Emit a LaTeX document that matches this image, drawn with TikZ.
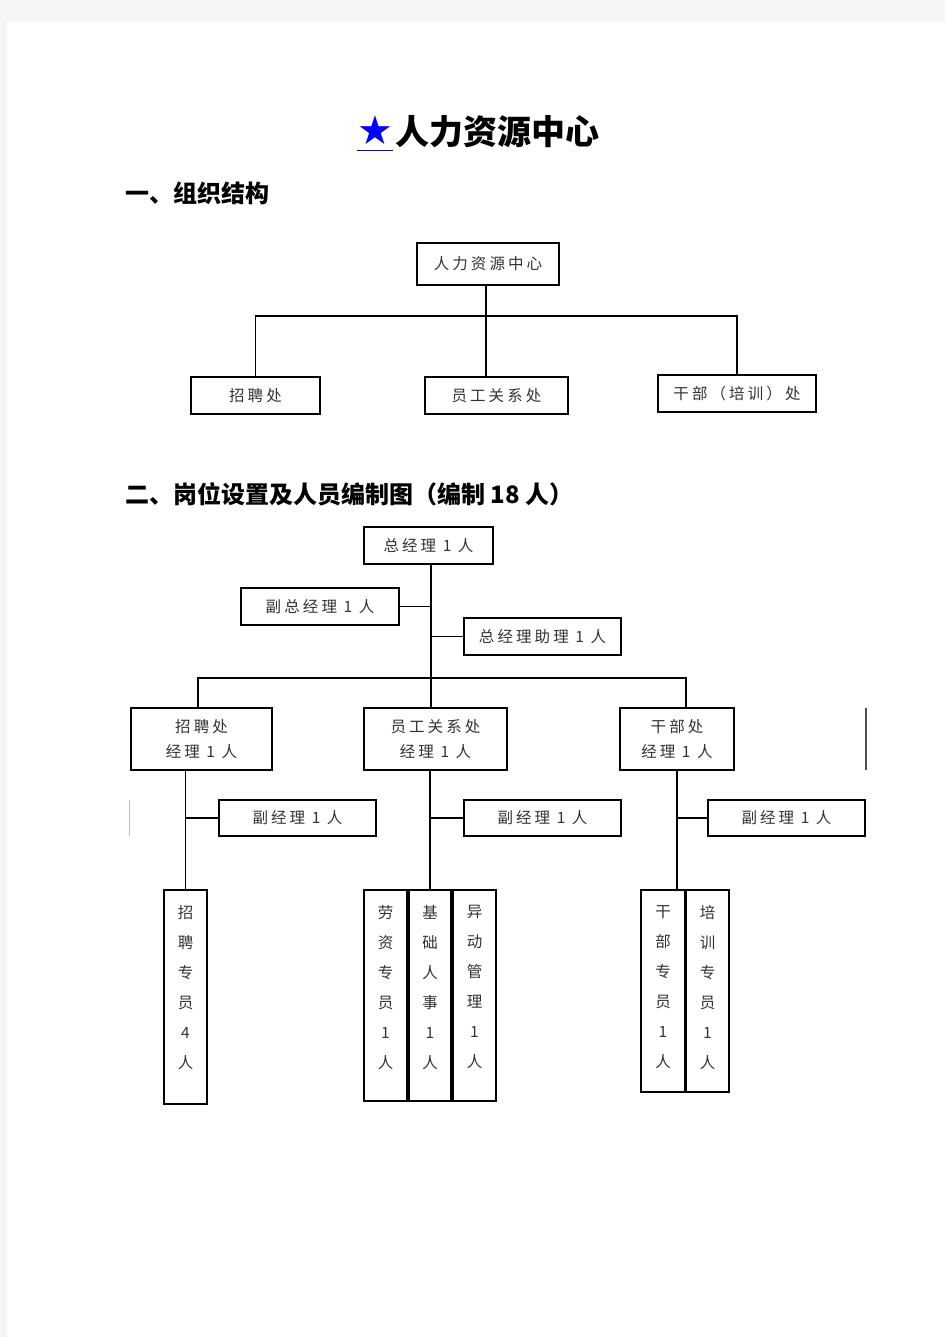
\documentclass[tikz,border=0pt]{standalone}
\usepackage{fontspec}
\usetikzlibrary{positioning}
\newfontfamily\cjkfont{Noto Sans CJK SC}
\newfontfamily\boxfont[LetterSpace=20]{Noto Sans CJK SC}
\newfontfamily\symfont{DejaVu Sans}
\definecolor{starblue}{RGB}{0,0,255}

\begin{document}
\begin{tikzpicture}[x=1pt, y=-1pt,
    unit/.style={rectangle, draw, line width=1.5pt, inner sep=0pt, align=center, text=black!80,
        font=\boxfont\fontsize{15.5pt}{25pt}\selectfont},
    coltext/.style={anchor=north, inner sep=0pt, align=center, text=black!80,
        font=\boxfont\fontsize{15.5pt}{30pt}\selectfont},
    heading/.style={anchor=west, inner sep=0pt, font=\cjkfont\bfseries\fontsize{24pt}{28pt}\selectfont},
    link/.style={line width=1.2pt},
    trunk/.style={line width=2.4pt}
]
    \fill[black!4] (0,0) rectangle (945,1337);
    \fill[white] (7,22) rectangle (945,1337);
    \useasboundingbox (0,0) rectangle (945,1337);

    \node[inner sep=0pt, font=\cjkfont\bfseries\fontsize{34pt}{40pt}\selectfont] (title) at (497.5,132) {人力资源中心};
    \node[inner sep=0pt, minimum width=34pt, minimum height=40pt, text=starblue,
        font=\symfont\fontsize{40pt}{44pt}\selectfont] (star) at (375,130) {★};
    \draw[starblue, line width=1pt] (star.south west) -- (star.south east);

    \node[heading] (h1) at (125,193) {一、组织结构};
    \node[heading] (h2) at (125,494) {二、岗位设置及人员编制图（编制 18 人）};

    \node[unit, minimum width=142pt, minimum height=42pt] (hr) at (488,264) {人力资源中心};
    \node[unit, minimum width=129pt, minimum height=37pt] (zp1) at (255.5,395.5) {招聘处};
    \node[unit, minimum width=143pt, minimum height=37pt] (yg1) at (496.5,395.5) {员工关系处};
    \node[unit, minimum width=158pt, minimum height=37pt] (gb1) at (737,393.5) {干部（培训）处};

    \coordinate (bus1) at (486,316);
    \draw[trunk] (hr.south -| bus1) -- (yg1.north -| bus1);
    \draw[link] (zp1.north) |- (bus1) -| (gb1.north);

    \node[unit, minimum width=129pt, minimum height=37pt] (zjl) at (428.5,545.5) {总经理 1 人};
    \node[unit, minimum width=158pt, minimum height=37pt] (fzjl) at (320,606.5) {副总经理 1 人};
    \node[unit, minimum width=157pt, minimum height=37pt] (zjlzl) at (542.5,636.5) {总经理助理 1 人};

    \node[unit, minimum width=141pt, minimum height=62pt] (zpc) at (201.5,739) {招聘处\\经理 1 人};
    \node[unit, minimum width=143pt, minimum height=62pt] (ygc) at (435.5,739) {员工关系处\\经理 1 人};
    \node[unit, minimum width=114pt, minimum height=62pt] (gbc) at (677,739) {干部处\\经理 1 人};

    \node[unit, minimum width=157pt, minimum height=36pt] (fjl1) at (297.5,818) {副经理 1 人};
    \node[unit, minimum width=157pt, minimum height=36pt] (fjl2) at (542.5,818) {副经理 1 人};
    \node[unit, minimum width=157pt, minimum height=36pt] (fjl3) at (786.5,818) {副经理 1 人};

    \node[unit, minimum width=43pt, minimum height=214pt] (zpzy) at (185.5,997) {};
    \node[unit, minimum width=43pt, minimum height=211pt] (lzzy) at (385.5,995.5) {};
    \node[unit, minimum width=42pt, minimum height=211pt] (jcrs) at (430,995.5) {};
    \node[unit, minimum width=43pt, minimum height=211pt] (ydgl) at (474.5,995.5) {};
    \node[unit, minimum width=44pt, minimum height=202pt] (gbzy) at (663,991) {};
    \node[unit, minimum width=43pt, minimum height=202pt] (pxzy) at (707.5,991) {};

    \node[coltext, below=16pt of zpzy.north] (zpzyt) {招\\聘\\专\\员\\4\\人};
    \node[coltext, below=16pt of lzzy.north] (lzzyt) {劳\\资\\专\\员\\1\\人};
    \node[coltext, below=16pt of jcrs.north] (jcrst) {基\\础\\人\\事\\1\\人};
    \node[coltext, below=16pt of ydgl.north] (ydglt) {异\\动\\管\\理\\1\\人};
    \node[coltext, below=16pt of gbzy.north] (gbzyt) {干\\部\\专\\员\\1\\人};
    \node[coltext, below=16pt of pxzy.north] (pxzyt) {培\\训\\专\\员\\1\\人};

    \coordinate (bus2) at (431,678);
    \coordinate (bus2l) at (198,678);
    \coordinate (bus2r) at (686,678);
    \draw[link] (zjl.south -| bus2) -- (ygc.north -| bus2);
    \draw[link] (fzjl.east) -- (fzjl.east -| bus2);
    \draw[link] (zjlzl.west) -- (zjlzl.west -| bus2);
    \draw[link] (zpc.north -| bus2l) -- (bus2l) -- (bus2r) -- (gbc.north -| bus2r);

    \draw[link] (zpzy.north) -- (zpzy.north |- zpc.south);
    \draw[link] (jcrs.north) -- (jcrs.north |- ygc.south);
    \draw[link] (gbc.south) -- (gbc.south |- gbzy.north);
    \draw[link] (fjl1.west) -- (fjl1.west -| zpzy.north);
    \draw[link] (fjl2.west) -- (fjl2.west -| jcrs.north);
    \draw[link] (fjl3.west) -- (fjl3.west -| gbc.south);

    \draw[black!70, line width=1.5pt] (866,708) -- (866,770);
    \draw[black!25, line width=1pt] (129,800) -- (129,836);
\end{tikzpicture}
\end{document}
